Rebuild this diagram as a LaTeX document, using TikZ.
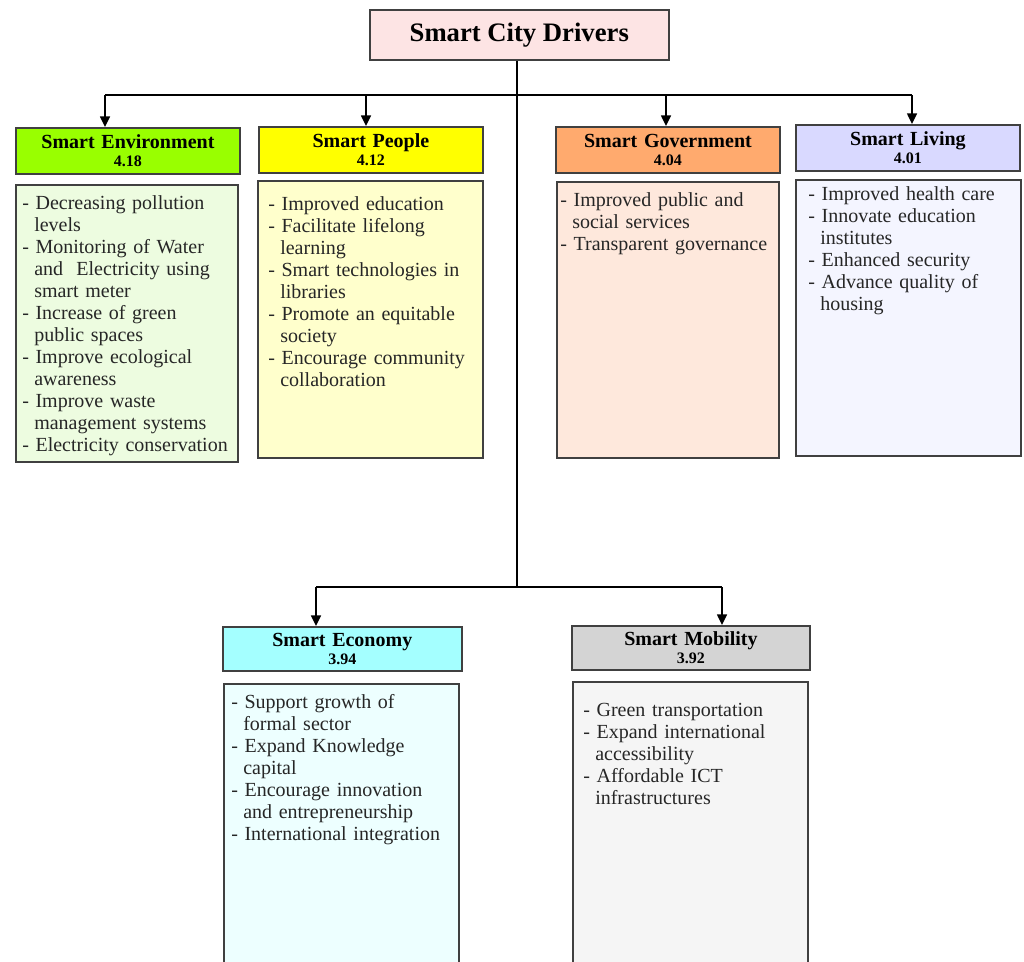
\documentclass[tikz,border=0pt]{standalone}
\usepackage{fontspec}
\setmainfont{Liberation Serif}
\usetikzlibrary{arrows.meta}

\definecolor{titlepink}{RGB}{253,228,228}
\definecolor{envhd}{RGB}{153,255,0}
\definecolor{envbd}{RGB}{237,252,224}
\definecolor{pplhd}{RGB}{255,255,0}
\definecolor{pplbd}{RGB}{255,255,204}
\definecolor{govhd}{RGB}{255,170,110}
\definecolor{govbd}{RGB}{254,232,220}
\definecolor{livhd}{RGB}{217,217,255}
\definecolor{livbd}{RGB}{244,245,255}
\definecolor{ecohd}{RGB}{164,255,255}
\definecolor{ecobd}{RGB}{237,255,255}
\definecolor{mobhd}{RGB}{212,212,212}
\definecolor{mobbd}{RGB}{245,245,245}

\newcommand{\subline}{\hspace*{0.6em}}

\tikzset{
  frame/.style={draw=black!75, line width=1.4pt, anchor=north west, inner sep=0pt},
  headbox/.style={frame, text width=168pt, minimum height=34.5pt, align=center,
    font=\bfseries\fontsize{15}{13.5}\selectfont},
  items/.style={anchor=north west, inner sep=0pt, text width=165pt, align=left,
    text=black!85, font=\fontsize{15}{16.5}\selectfont},
  link/.style={line width=1.1pt},
  drop/.style={link, -{Triangle[length=8pt,width=7.5pt]}}
}

\begin{document}
\begin{tikzpicture}[x=0.75pt, y=-0.75pt]
    \clip (0,0) rectangle (1024,961);

    \node[frame, fill=titlepink, minimum width=224pt, minimum height=37.5pt,
      font=\bfseries\fontsize{20}{24}\selectfont] (title) at (369,9) {Smart City Drivers};

    % headers
    \node[headbox, fill=envhd] (envhead) at (15,127) {Smart Environment\\{\fontsize{12}{13}\selectfont 4.18}};
    \node[headbox, fill=pplhd] (pplhead) at (258,126) {Smart People\\{\fontsize{12}{13}\selectfont 4.12}};
    \node[headbox, fill=govhd] (govhead) at (555,126) {Smart Government\\{\fontsize{12}{13}\selectfont 4.04}};
    \node[headbox, fill=livhd] (livhead) at (795,124) {Smart Living\\{\fontsize{12}{13}\selectfont 4.01}};
    \node[headbox, fill=ecohd, text width=179pt, minimum height=33pt] (ecohead) at (222,626) {Smart Economy\\{\fontsize{12}{13}\selectfont 3.94}};
    \node[headbox, fill=mobhd, text width=178.5pt, minimum height=33pt] (mobhead) at (571,625) {Smart Mobility\\{\fontsize{12}{13}\selectfont 3.92}};

    % bodies
    \node[frame, fill=envbd, minimum width=166.5pt, minimum height=207.75pt] (envbox) at (15,184) {};
    \node[frame, fill=pplbd, minimum width=168.75pt, minimum height=207.75pt] (pplbox) at (257,180) {};
    \node[frame, fill=govbd, minimum width=166.5pt, minimum height=207pt] (govbox) at (556,181) {};
    \node[frame, fill=livbd, minimum width=168.75pt, minimum height=207pt] (livbox) at (795,179) {};
    \node[frame, fill=ecobd, minimum width=176.25pt, minimum height=214pt] (ecobox) at (223,683) {};
    \node[frame, fill=mobbd, minimum width=176.25pt, minimum height=216pt] (mobbox) at (572,681) {};

    \path (envbox.north west) ++(7,11) node[items] (envtext) {%
      - Decreasing pollution\\ \subline levels\\
      - Monitoring of Water\\ \subline and\ \ Electricity using\\ \subline smart meter\\
      - Increase of green\\ \subline public spaces\\
      - Improve ecological\\ \subline awareness\\
      - Improve waste\\ \subline management systems\\
      - Electricity conservation};
    \path (pplbox.north west) ++(11,16) node[items] (ppltext) {%
      - Improved education\\
      - Facilitate lifelong\\ \subline learning\\
      - Smart technologies in\\ \subline libraries\\
      - Promote an equitable\\ \subline society\\
      - Encourage community\\ \subline collaboration};
    \path (govbox.north west) ++(4,11) node[items] (govtext) {%
      - Improved public and\\ \subline social services\\
      - Transparent governance};
    \path (livbox.north west) ++(13,7) node[items] (livtext) {%
      - Improved health care\\
      - Innovate education\\ \subline institutes\\
      - Enhanced security\\
      - Advance quality of\\ \subline housing};
    \path (ecobox.north west) ++(8,11) node[items] (ecotext) {%
      - Support growth of\\ \subline formal sector\\
      - Expand Knowledge\\ \subline capital\\
      - Encourage innovation\\ \subline and entrepreneurship\\
      - International integration};
    \path (mobbox.north west) ++(11,22) node[items] (mobtext) {%
      - Green transportation\\
      - Expand international\\ \subline accessibility\\
      - Affordable ICT\\ \subline infrastructures};

    % connectors
    \coordinate (jTop) at (517,95);
    \coordinate (jEnv) at (105,95);
    \coordinate (jPpl) at (366,95);
    \coordinate (jGov) at (666,95);
    \coordinate (jLiv) at (912,95);
    \coordinate (jEco) at (316,587);
    \coordinate (jMob) at (722,587);

    \draw[link] (jTop |- title.south) -- (jTop |- jEco);
    \draw[link] (jEnv) -- (jLiv);
    \draw[link] (jEco) -- (jMob);
    \foreach \j/\h in {jEnv/envhead, jPpl/pplhead, jGov/govhead, jLiv/livhead, jEco/ecohead, jMob/mobhead}
      \draw[drop] (\j) -- (\j |- \h.north);

\end{tikzpicture}
\end{document}
